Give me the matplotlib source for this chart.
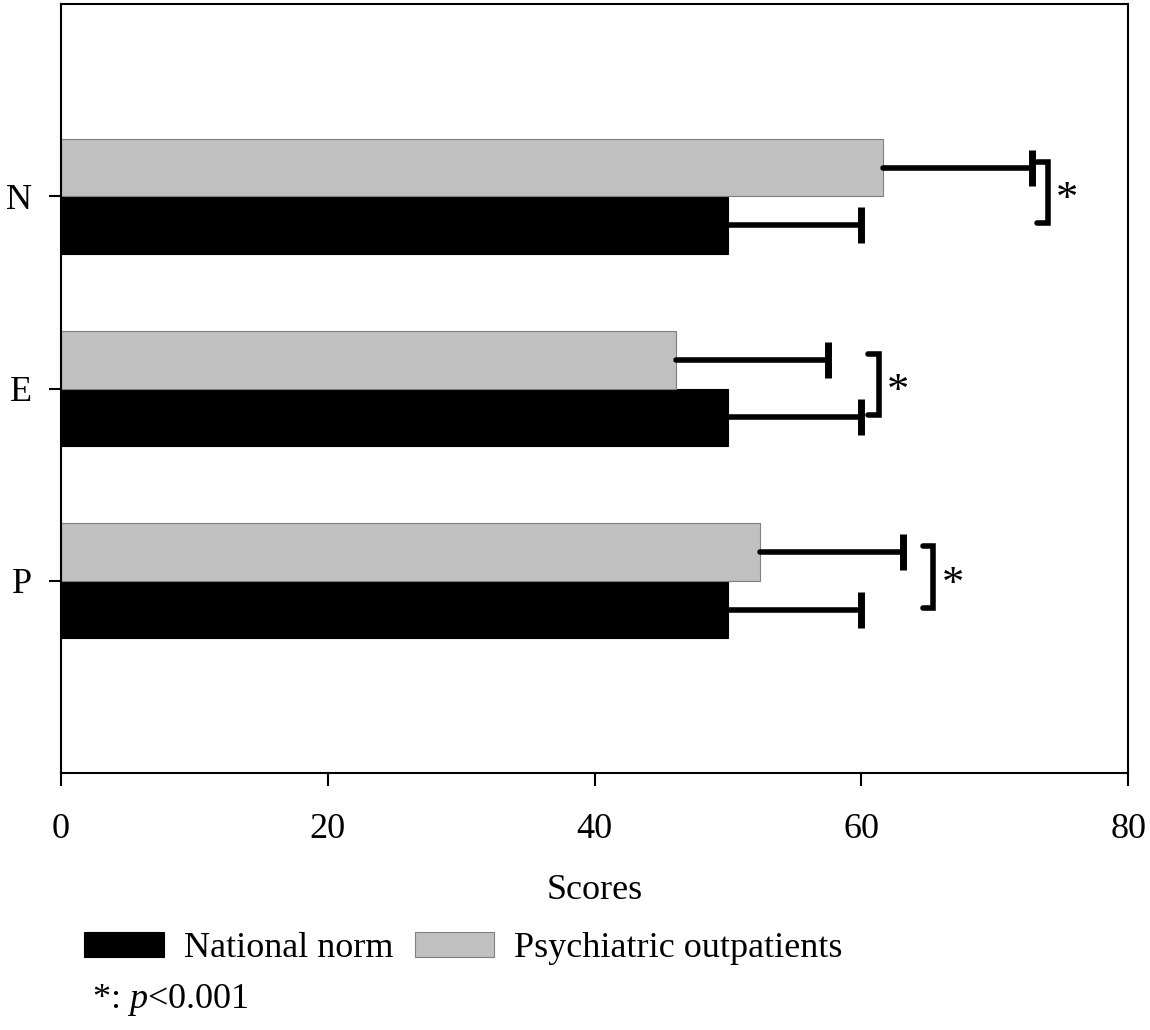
import matplotlib.pyplot as plt
import numpy as np

plt.rcParams['font.family'] = ['Liberation Serif', 'DejaVu Serif']
plt.rcParams['mathtext.fontset'] = 'custom'
plt.rcParams['mathtext.rm'] = 'Liberation Serif'
plt.rcParams['mathtext.it'] = 'Liberation Serif:italic'

# data
categories = ['P', 'E', 'N']
norm_mean = [50.0, 50.0, 50.0]
norm_sd = [10.0, 10.0, 10.0]
patient_mean = [52.4, 46.1, 61.6]
patient_sd = [10.7, 11.4, 11.2]
sig_x = [65.4, 61.3, 74.0]   # where the significance brackets sit
sig_label = ['*', '*', '*']

fig = plt.figure(figsize=(11.5, 10.3), dpi=100)
ax = fig.add_axes([0.053, 0.2495, 0.928, 0.7465])

y = np.arange(len(categories))
h = 0.3
fs = 26

# bars
ax.barh(y - h / 2, norm_mean, height=h, color='black', edgecolor='black',
        linewidth=0.8, label='National norm', zorder=2)
ax.barh(y + h / 2, patient_mean, height=h, color='#c0c0c0', edgecolor='#7f7f7f',
        linewidth=0.8, label='Psychiatric outpatients', zorder=2)

# one sided error bars
for yy, m, s in zip(y - h / 2, norm_mean, norm_sd):
    ax.plot([m, m + s], [yy, yy], color='black', lw=4, solid_capstyle='round', zorder=3)
    ax.plot(m + s, yy, marker='|', ms=26, mew=5, color='black', zorder=3)
for yy, m, s in zip(y + h / 2, patient_mean, patient_sd):
    ax.plot([m, m + s], [yy, yy], color='black', lw=4, solid_capstyle='round', zorder=3)
    ax.plot(m + s, yy, marker='|', ms=26, mew=5, color='black', zorder=3)

# significance brackets
for yy, bx, lab in zip(y, sig_x, sig_label):
    y0, y1 = yy - 0.14, yy + 0.18
    ax.plot([bx - 0.8, bx, bx, bx - 0.8], [y0, y0, y1, y1], color='black', lw=4,
            solid_joinstyle='miter', solid_capstyle='round', zorder=3)
    ax.text(bx + 0.6, yy - 0.02, lab, fontsize=32, ha='left', va='center')

ax.set_xlim(0, 80)
ax.set_ylim(-1, 3)
ax.set_xticks([0, 20, 40, 60, 80])
ax.set_yticks(y)
ax.set_yticklabels(categories)
ax.tick_params(axis='both', direction='out', length=9, width=1.5, labelsize=fs)
ax.tick_params(axis='x', pad=20)
ax.tick_params(axis='y', pad=12)
for sp in ax.spines.values():
    sp.set_linewidth(1.5)
ax.set_xlabel('Scores', fontsize=fs, labelpad=20)

fig.legend(loc='center left', bbox_to_anchor=(0.045, 0.079), ncol=2, frameon=False,
           fontsize=fs, handlelength=2.2, handleheight=0.7, handletextpad=0.55,
           columnspacing=0.6)
fig.text(0.08, 0.029, '*: $\\mathit{p}$<0.001', fontsize=fs, ha='left', va='center')

fig.savefig('out.png', dpi=100)
